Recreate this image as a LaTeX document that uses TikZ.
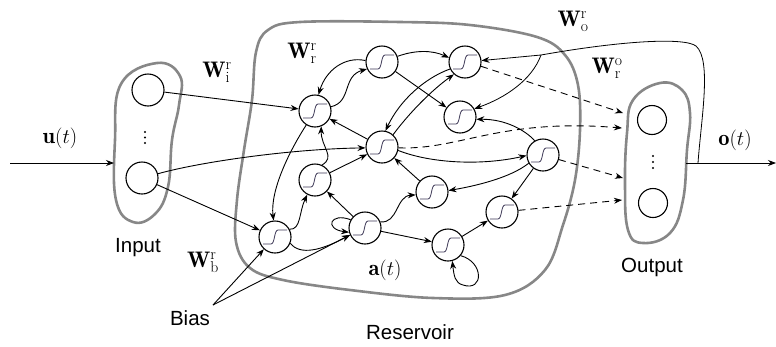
\documentclass[tikz,border=0pt]{standalone}
\usepackage{fontspec}
\newfontfamily\labelsans{Liberation Sans}
\usetikzlibrary{arrows.meta}
\definecolor{blobgray}{RGB}{135,135,135}
\definecolor{stepcol}{RGB}{60,55,85}

\begin{document}
\begin{tikzpicture}[x=1pt,y=-1pt,
  conn/.style={line width=0.9pt,-{Stealth[length=8pt,width=6pt]}},
  readout/.style={conn,dash pattern=on 7pt off 5pt},
  feedback/.style={line width=0.8pt},
  blob/.style={draw=blobgray,line width=2.6pt},
  unit/.style={circle,draw,line width=1.1pt,minimum size=32pt,inner sep=0pt},
  smallunit/.style={unit,minimum size=29pt},
  neuron/.style={unit,path picture={
      \draw[stepcol,line width=0.8pt,shift={(path picture bounding box.center)}]
        (-12pt,-7pt) -- (-4pt,-7pt) .. controls (0pt,-7pt) and (-1pt,7pt) .. (3pt,7pt) -- (12pt,7pt);}},
  mathlbl/.style={font=\fontsize{22.5}{26}\selectfont,inner sep=0pt},
  txt/.style={font=\labelsans\fontsize{20.5}{24}\selectfont,inner sep=0pt},
  dot/.style={fill,circle,inner sep=0pt,minimum size=2.3pt}]

\useasboundingbox (0,0) rectangle (776,346);

% layer outlines
\draw[blob] plot[smooth cycle,tension=0.7] coordinates {
  (157,63) (180,76) (179,105) (172,140) (168,187) (155,214) (133,222) (116,200) (115,140) (121,84)};
\draw[blob] plot[smooth cycle,tension=0.6] coordinates {
  (300,22) (400,22) (470,25) (537,37) (565,55) (578,85) (580,130) (575,180) (563,225)
  (545,270) (505,295) (433,298) (350,290) (283,280) (250,268) (236,242) (237,200)
  (244,150) (252,100) (256,52) (268,30)};
\draw[blob] plot[smooth cycle,tension=0.7] coordinates {
  (660,83) (682,90) (690,113) (687,150) (683,200) (670,233) (643,243) (628,230) (625,183) (627,133) (633,100)};

% input layer
\node[unit] (in1) at (148,90) {};
\node[unit] (in2) at (142,178) {};
\node[dot] (ind1) at (145,132) {};
\node[dot] (ind2) at (145,137.5) {};
\node[dot] (ind3) at (145,143) {};

% output layer
\node[smallunit] (out1) at (652,120) {};
\node[smallunit] (out2) at (653,203) {};
\node[dot] (outd1) at (653,156) {};
\node[dot] (outd2) at (653,162) {};
\node[dot] (outd3) at (653,168) {};

% reservoir units
\node[neuron] (n1) at (315,111) {};
\node[neuron] (n2) at (382,62) {};
\node[neuron] (n3) at (465,62) {};
\node[neuron] (n4) at (460,117) {};
\node[neuron] (n5) at (382,147) {};
\node[neuron] (n6) at (543,155) {};
\node[neuron] (n7) at (315,180) {};
\node[neuron] (n8) at (432,192) {};
\node[neuron] (n9) at (502,212) {};
\node[neuron] (n10) at (275,237) {};
\node[neuron] (n11) at (365,228) {};
\node[neuron] (n12) at (448,245) {};

% anchor points on the outlines and free ends
\coordinate (uin) at (10,163);
\coordinate (ib) at (114,163);
\coordinate (ob) at (686,163);
\coordinate (oend) at (776,163);
\coordinate (fb) at (698,163);
\coordinate (fj) at (541,55);
\coordinate (o1) at (623,113);
\coordinate (o2) at (622,128);
\coordinate (o3) at (623,178);
\coordinate (o4) at (622,200);
\coordinate (bp) at (213,305);

% labels
\node[mathlbl] (ulbl) at (60,138) {$\mathbf{u}(t)$};
\node[mathlbl] (olbl) at (735,140) {$\mathbf{o}(t)$};
\node[mathlbl] (albl) at (385,270) {$\mathbf{a}(t)$};
\node[mathlbl] (wir) at (217,72) {$\mathbf{W}^{\mathrm{r}}_{\mathrm{i}}$};
\node[mathlbl] (wrr) at (302,53) {$\mathbf{W}^{\mathrm{r}}_{\mathrm{r}}$};
\node[mathlbl] (wbr) at (203,262) {$\mathbf{W}^{\mathrm{r}}_{\mathrm{b}}$};
\node[mathlbl] (wor) at (573,21) {$\mathbf{W}^{\mathrm{r}}_{\mathrm{o}}$};
\node[mathlbl] (wro) at (607,68) {$\mathbf{W}^{\mathrm{o}}_{\mathrm{r}}$};
\node[txt] (inlbl) at (138,248) {Input};
\node[txt] (outlbl) at (652,267) {Output};
\node[txt] (biaslbl) at (190,318) {Bias};
\node[txt] (reslbl) at (410,332) {Reservoir};

% input and output signals
\draw[conn] (uin) -- (ib);
\draw[conn] (ob) -- (oend);

% input weights
\draw[conn] (in1) -- (n1);
\draw[conn] (in2.15) .. controls (200,162) and (290,149) .. (n5.183);
\draw[conn] (in2) -- (n10);

% bias weights
\draw[conn] (bp) -- (n10);
\draw[conn] (bp) -- (n11.205);

% recurrent weights
\draw[conn] (n1.15) .. controls (352,102) and (342,76) .. (n2.205);
\draw[conn] (n2.175) .. controls (345,56) and (326,70) .. (n1.78);
\draw[conn] (n2.20) .. controls (415,50) and (432,50) .. (n3.165);
\draw[conn] (n2) -- (n4);
\draw[conn] (n3.205) .. controls (425,78) and (400,100) .. (n5.78);
\draw[conn] (n5.48) .. controls (410,112) and (432,90) .. (n3.228);
\draw[conn] (n5) -- (n1);
\draw[conn] (n5.-12) .. controls (430,163) and (480,166) .. (n6.182);
\draw[conn] (n6.120) .. controls (525,130) and (505,119) .. (n4.-8);
\draw[conn] (n6.210) .. controls (510,178) and (475,186) .. (n8.5);
\draw[conn] (n6) -- (n9);
\draw[conn] (n8) -- (n5);
\draw[conn] (n7) -- (n5);
\draw[conn] (n7.65) .. controls (336,157) and (321,147) .. (n1.-68);
\draw[conn] (n1.238) .. controls (290,150) and (270,190) .. (n10.95);
\draw[conn] (n10.28) .. controls (301,230) and (299,212) .. (n7.242);
\draw[conn] (n10.-22) .. controls (300,256) and (322,250) .. (n11.205);
\draw[conn] (n11) -- (n7);
\draw[conn] (n11.150) .. controls (330,212) and (324,229) .. (n11.195);
\draw[conn] (n11.22) .. controls (398,224) and (396,196) .. (n8.190);
\draw[conn] (n11) -- (n12);
\draw[conn] (n12) -- (n9);
\draw[conn] (n12.-40) .. controls (484,262) and (484,292) .. (463,285)
  .. controls (455,283) and (454,276) .. (n12.-75);

% readout weights
\draw[readout] (n3.-15) -- (o1);
\draw[readout] (n5.-3) .. controls (460,150) and (500,118) .. (o2);
\draw[readout] (n6) -- (o3);
\draw[readout] (n9) -- (o4);

% output feedback
\draw[feedback] (fb) .. controls (701,120) and (712,60) .. (696,46)
  .. controls (684,37) and (620,41) .. (fj);
\draw[conn,line width=0.8pt] (fj) -- (n3.5);
\draw[conn,line width=0.8pt] (fj) .. controls (532,80) and (505,98) .. (n4.30);
\end{tikzpicture}
\end{document}
